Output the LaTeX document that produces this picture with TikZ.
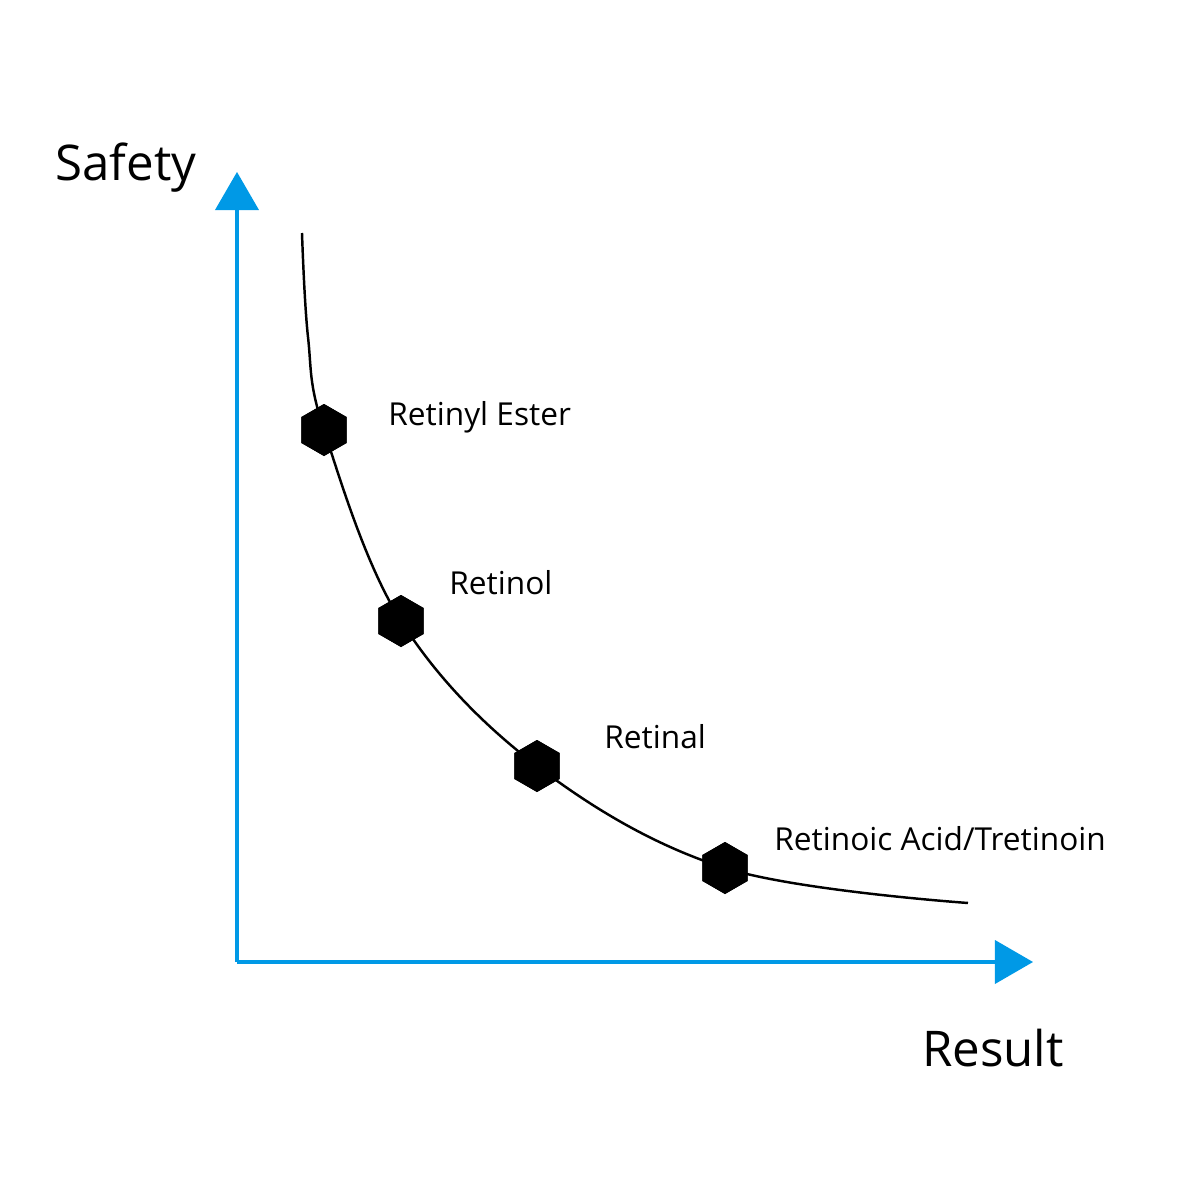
\documentclass[tikz,border=0pt]{standalone}
\usepackage{fontspec}
\setmainfont{Open Sans}
\usetikzlibrary{shapes.geometric}
\definecolor{axisblue}{HTML}{0099E6}
\tikzset{
  hexmark/.style={regular polygon, regular polygon sides=6, shape border rotate=30, fill=black, minimum size=0.52cm, inner sep=0pt},
  lbl/.style={anchor=west, font=\fontsize{9pt}{11pt}\selectfont},
  axlbl/.style={font=\fontsize{14pt}{16pt}\selectfont},
  axisline/.style={axisblue, line width=1.2pt},
  axishead/.style={fill=axisblue}
}
\begin{document}
\begin{tikzpicture}
    \useasboundingbox (0,0) rectangle (11.82,11.82);
    % Axes
    \coordinate (o) at (2.37,2.20);
    \coordinate (ytip) at (2.37,10.10);
    \coordinate (xtip) at (10.33,2.20);
    \draw[axisline] (o) -- (2.37,9.80);
    \draw[axisline] (o) -- (10.05,2.20);
    \fill[axishead] (ytip) -- (2.15,9.72) -- (2.59,9.72) -- cycle;
    \fill[axishead] (xtip) -- (9.95,2.42) -- (9.95,1.98) -- cycle;
    \node[axlbl] (safety) at (1.26,10.14) {Safety};
    \node[axlbl] (result) at (9.93,1.34) {Result};

    % Curve
    \coordinate (c0) at (3.02,9.49);
    \coordinate (c9) at (9.68,2.79);
    \node[hexmark] (h1) at (3.24,7.52) {};
    \node[hexmark] (h2) at (4.01,5.61) {};
    \node[hexmark] (h3) at (5.37,4.16) {};
    \node[hexmark] (h4) at (7.25,3.14) {};
    \draw[black, line width=0.7pt] plot[smooth, tension=0.6] coordinates
      {(c0) (3.08,8.45) (h1.center) (h2.center) (h3.center) (h4.center) (c9)};
    \foreach \h in {h1,h2,h3,h4} \node[hexmark] at (\h) {};

    % Labels
    \node[lbl] (l1) at (3.76,7.65) {Retinyl Ester};
    \node[lbl] (l2) at (4.37,5.99) {Retinol};
    \node[lbl] (l3) at (5.92,4.45) {Retinal};
    \node[lbl] (l4) at (7.62,3.43) {Retinoic Acid/Tretinoin};
\end{tikzpicture}
\end{document}
